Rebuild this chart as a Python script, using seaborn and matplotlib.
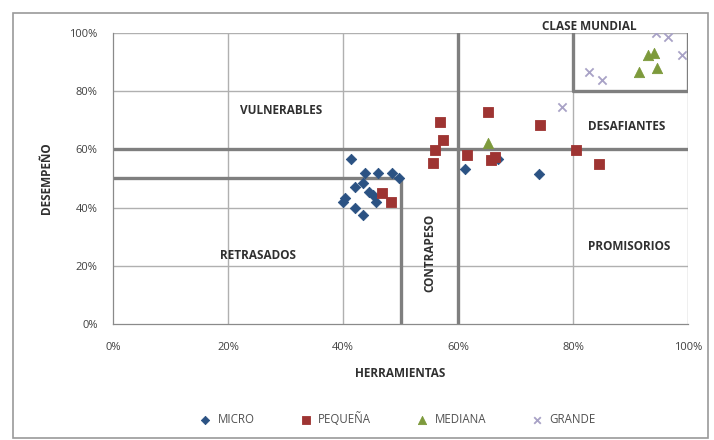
import matplotlib
matplotlib.use("Agg")
import matplotlib.pyplot as plt
import seaborn as sns
import pandas as pd
from matplotlib.ticker import MultipleLocator, PercentFormatter
from matplotlib.patches import Rectangle

# Company-size groups: (HERRAMIENTAS %, DESEMPEÑO %)
micro_x = [41.4, 43.9, 46.0, 48.6, 49.7, 42.1, 43.5, 44.6, 40.3, 40.0, 42.1, 43.5, 45.8, 45.3, 61.3, 74.0, 67.0]
micro_y = [56.7, 51.8, 51.8, 51.8, 50.2, 47.2, 48.3, 45.5, 43.2, 42.0, 39.8, 37.5, 42.0, 44.3, 53.2, 51.5, 56.8]
pequena_x = [56.9, 65.3, 74.3, 57.4, 56.0, 55.6, 61.5, 65.8, 66.5, 80.6, 84.5, 46.7, 48.4]
pequena_y = [69.5, 72.7, 68.4, 63.2, 59.8, 55.2, 58.1, 56.4, 57.5, 59.8, 55.0, 44.9, 42.0]
mediana_x = [65.3, 91.5, 93.1, 94.0, 94.6]
mediana_y = [62.1, 86.7, 92.4, 93.0, 87.9]
grande_x = [82.7, 85.0, 94.5, 96.6, 98.9, 78.0]
grande_y = [86.7, 83.8, 99.9, 98.7, 92.4, 74.7]

groups = ["MICRO", "PEQUEÑA", "MEDIANA", "GRANDE"]
colors = ["#2B5283", "#9E3432", "#7D9A3C", "#A8A2C6"]
markers = ["D", "s", "^", "x"]
sizes = [28, 55, 55, 35]

quadrants = ["VULNERABLES", "DESAFIANTES", "RETRASADOS", "PROMISORIOS", "CONTRAPESO", "CLASE MUNDIAL"]

df = pd.concat([
    pd.DataFrame({"x": micro_x, "y": micro_y, "grupo": "MICRO"}),
    pd.DataFrame({"x": pequena_x, "y": pequena_y, "grupo": "PEQUEÑA"}),
    pd.DataFrame({"x": mediana_x, "y": mediana_y, "grupo": "MEDIANA"}),
    pd.DataFrame({"x": grande_x, "y": grande_y, "grupo": "GRANDE"}),
])

sns.set_style("white")
plt.rcParams["font.family"] = ["Open Sans", "DejaVu Sans"]

fig = plt.figure(figsize=(7.14, 4.40), dpi=100)
fig.patches.append(Rectangle((13 / 714, 2 / 440), 695 / 714, 425 / 440, transform=fig.transFigure,
                             fill=False, edgecolor="#9a9a9a", linewidth=1.2))
ax = fig.add_axes([113 / 714, 116 / 440, 575 / 714, 291 / 440])

grid_c = "#b0b0b0"
line_c = "#7f7f7f"
for v in [20, 40, 60, 80, 100]:
    ax.axvline(v, color=grid_c, lw=1.0, zorder=1)
    ax.axhline(v, color=grid_c, lw=1.0, zorder=1)

# Quadrant dividers
ax.axhline(60, color=line_c, lw=2.4, zorder=2)
ax.axvline(60, color=line_c, lw=2.4, zorder=2)
ax.plot([0, 50], [50, 50], color=line_c, lw=2.4, zorder=2)
ax.plot([50, 50], [0, 50], color=line_c, lw=2.4, zorder=2)
ax.plot([80, 80, 100, 100], [100, 80, 80, 100], color=line_c, lw=2.4, zorder=2)

for g, c, m, s in zip(groups, colors, markers, sizes):
    sub = df[df["grupo"] == g]
    kw = dict(linewidth=1.3) if m == "x" else dict(edgecolor=c, linewidth=0.6)
    sns.scatterplot(data=sub, x="x", y="y", marker=m, color=c, s=s, ax=ax,
                    label=g, zorder=3, **kw)

ax.set_xlim(0, 100)
ax.set_ylim(0, 100)
ax.xaxis.set_major_locator(MultipleLocator(20))
ax.yaxis.set_major_locator(MultipleLocator(20))
ax.xaxis.set_minor_locator(MultipleLocator(4))
ax.yaxis.set_minor_locator(MultipleLocator(4))
ax.xaxis.set_major_formatter(PercentFormatter(decimals=0))
ax.yaxis.set_major_formatter(PercentFormatter(decimals=0))
ax.tick_params(axis="both", which="major", direction="inout", length=6, width=0.8,
               color="#8a8a8a", labelsize=8, labelcolor="#404040")
ax.tick_params(axis="both", which="minor", direction="inout", length=4, width=0.8, color="#8a8a8a")
ax.tick_params(axis="x", pad=10)
ax.tick_params(axis="y", pad=8)
for side in ["top", "right"]:
    ax.spines[side].set_visible(False)
for side in ["left", "bottom"]:
    ax.spines[side].set_color("#8a8a8a")
    ax.spines[side].set_linewidth(0.9)

ax.set_xlabel("HERRAMIENTAS", fontsize=8.5, fontweight="bold", color="#303030", labelpad=10)
ax.set_ylabel("DESEMPEÑO", fontsize=8.5, fontweight="bold", color="#303030", labelpad=12)

tkw = dict(fontsize=8.5, fontweight="bold", color="#303030", ha="center", va="center")
ax.text(29.2, 73.2, quadrants[0], **tkw)
ax.text(89.4, 67.7, quadrants[1], **tkw)
ax.text(25.2, 23.7, quadrants[2], **tkw)
ax.text(89.7, 26.5, quadrants[3], **tkw)
ax.text(55.1, 24.4, quadrants[4], rotation=90, **tkw)
ax.text(82.8, 102.3, quadrants[5], **tkw)

handles, labels = ax.get_legend_handles_labels()
ax.legend(handles, labels, loc="center", bbox_to_anchor=(0.49, -0.325), ncol=4, frameon=False,
          fontsize=8.3, labelcolor="#505050", handletextpad=0.1, columnspacing=3.4, markerscale=0.8)

fig.savefig("out.png", dpi=100)
